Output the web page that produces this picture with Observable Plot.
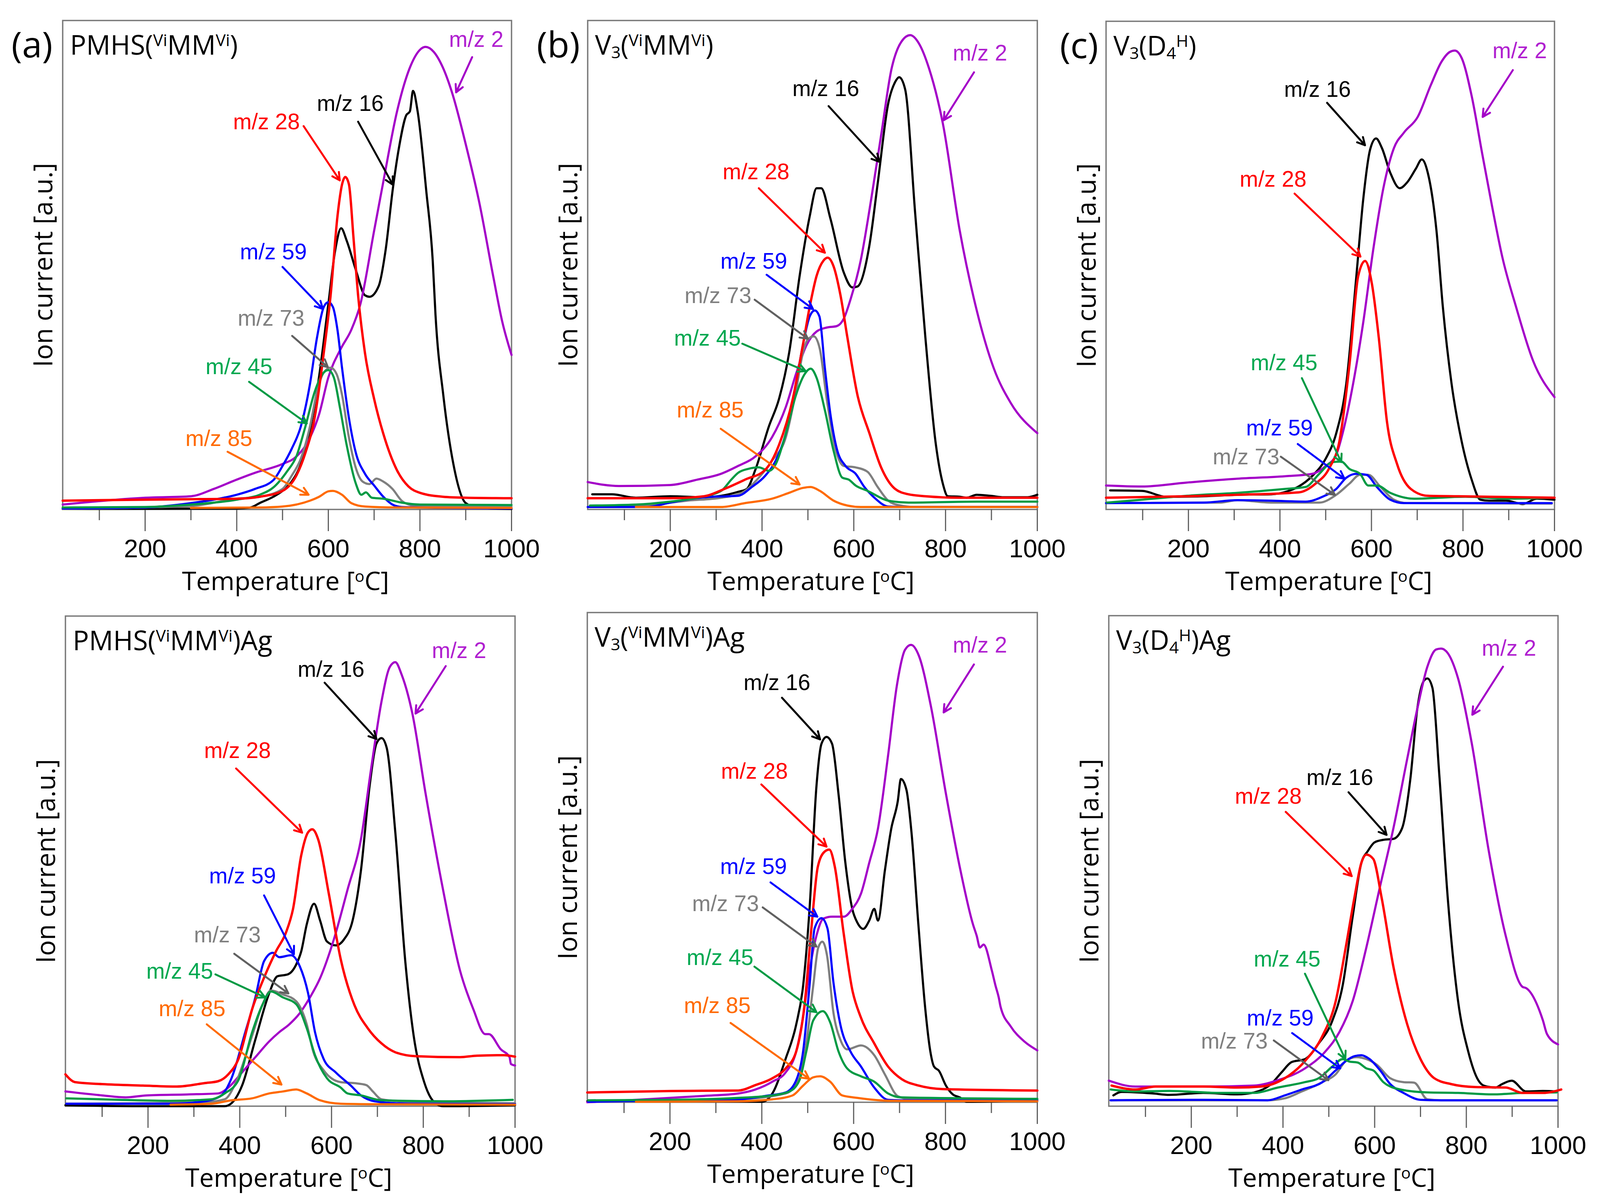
<!DOCTYPE html>
<html>
<head>
<meta charset="utf-8">
<script src="https://cdn.jsdelivr.net/npm/d3@7"></script>
<script src="https://cdn.jsdelivr.net/npm/@observablehq/plot@0.6"></script>
<style>
html,body{margin:0;padding:0;background:#fff;overflow:hidden}
#page{position:relative;width:100vw;height:3083px;background:#fff;overflow:hidden}
</style>
</head>
<body>
<div id="page"></div>
<script>
// Every series: [temperature °C, ion current as % of the panel height]
const a_mz2=[[20,1],[200,2.4],[300,2.7],[350,4.2],[400,6.1],[440,7.5],[500,9.3],[530,10.8],[560,14.7],[580,19.5],[600,27],[628,33],[650,36.7],[670,42],[700,57],[720,67],[750,81.4],[780,90.8],[800,94],[812,94.6],[830,93.6],[850,90.4],[870,85.3],[900,74.7],[930,62.6],[960,47.7],[980,38.3],[1000,31.6]];
const a_mz16=[[20,.1],[400,.2],[430,.4],[450,1.3],[480,2.6],[500,3.8],[520,5.7],[540,9.3],[560,16.3],[580,27.3],[600,42],[615,53],[628,57.5],[640,55],[660,49],[680,43.8],[690,43.5],[710,45.7],[725,53],[741,65.7],[755,74.4],[770,80.6],[778,81.4],[785,85.6],[795,81.4],[814,65],[828,50.8],[834,39.8],[851,23.4],[873,9.3],[900,1.3],[925,.4],[1000,.1]];
const a_mz28=[[20,1.8],[200,2],[300,2.1],[400,2.2],[450,2.6],[500,3.8],[530,6.9],[550,11.6],[570,18.7],[590,32],[605,43.8],[620,60],[630,66.5],[637,68],[645,66.5],[655,55.5],[665,43.8],[680,32],[700,22.6],[720,15.5],[750,8],[775,4.7],[800,3.4],[850,2.6],[900,2.4],[1000,2.3]];
const a_mz59=[[20,.2],[200,.4],[300,1.3],[350,2],[400,3],[440,4.2],[480,6],[500,8.9],[520,12.4],[540,17],[560,25.7],[575,35],[590,41.4],[600,42.4],[610,41.4],[620,36.7],[630,28.9],[645,18.7],[660,11.6],[680,7.3],[700,4.9],[720,2.6],[740,1],[760,.5],[800,.4],[1000,.2]];
const a_mz73=[[20,.1],[300,.7],[400,2.2],[450,2.6],[500,4.2],[520,6.9],[540,10.4],[560,17],[575,24],[590,28],[605,29],[618,27.7],[630,23.4],[645,14.7],[660,8.5],[675,5.7],[690,5.2],[705,6.3],[720,5.7],[740,4.2],[760,1.8],[780,.9],[800,.7],[1000,.5]];
const a_mz45=[[20,.4],[200,.5],[300,1],[400,2],[450,3],[480,4.5],[510,7.8],[530,10.8],[550,17],[570,24],[590,28],[600,28.5],[612,27],[625,21],[640,13.2],[660,5.3],[672,3],[682,3.5],[695,2.4],[720,2.2],[760,1.4],[800,1],[1000,.9]];
const a_mz85=[[300,.3],[450,.4],[500,.6],[530,1],[560,1.8],[580,2.6],[600,3.7],[610,3.8],[630,3],[650,1.3],[680,.6],[750,.4],[1000,.3]];

const b_mz2=[[20,5.6],[88,4.8],[200,5],[259,6.1],[311,7.3],[348,8.9],[385,10.8],[422,14.8],[452,21],[474,27.7],[497,33.6],[519,36.4],[541,37.2],[563,37.5],[578,39],[593,43],[615,50.9],[638,63.5],[660,76.8],[682,90],[704,95.7],[723,97],[742,95.3],[764,90.2],[794,79],[831,57],[868,40.7],[905,28.9],[942,21.8],[1000,15.6]];
const b_mz16=[[30,3.1],[73,3.1],[125,2.4],[200,2.7],[274,2.5],[348,3.6],[367,4.2],[385,8],[415,17],[437,22.6],[459,32],[482,47.8],[504,60],[519,65.7],[529,65.7],[549,59.5],[578,48.5],[597,45.4],[608,45.6],[634,54],[652,66.6],[675,83],[690,87.4],[699,88.4],[712,85.9],[734,60.3],[756,35.2],[779,13.2],[794,5.3],[805,2.7],[831,2.6],[846,2.4],[868,3],[897,2.8],[927,2.5],[979,2.5],[1000,3]];
const b_mz28=[[20,2.3],[200,2.3],[274,2.7],[318,4.2],[363,6.1],[407,8.1],[437,13.2],[467,22.6],[489,33.6],[504,41.5],[519,47.8],[534,50.9],[543,51.5],[556,49.7],[571,43.8],[586,35.2],[608,23.4],[634,15.6],[660,8.5],[690,4.2],[719,3.1],[756,2.7],[831,2.4],[1000,2.4]];
const b_mz59=[[20,.5],[148,.5],[200,1.4],[274,2.5],[348,2.8],[378,4.6],[407,6.9],[430,10],[452,15.6],[474,25.8],[489,33.6],[504,39.5],[515,40.7],[525,39.5],[537,28.9],[549,19.5],[563,12.4],[582,8.9],[604,7.3],[623,4.6],[645,2.4],[675,.6],[719,.5],[1000,.5]];
const b_mz73=[[25,.6],[163,1],[237,1.8],[311,2.4],[356,3.4],[393,6.5],[422,10],[452,14.8],[474,24.2],[489,32],[500,34.8],[513,35.4],[526,32.8],[541,22.6],[560,12.4],[578,8.9],[604,8.6],[630,7.7],[652,4.6],[675,1.8],[697,.9],[734,.5],[1000,.5]];
const b_mz45=[[25,.8],[125,1],[200,1.6],[259,2.4],[311,3.8],[333,6.1],[348,7.5],[370,8.3],[393,8.6],[415,7.9],[430,9.3],[452,15.6],[474,23.4],[493,27.7],[506,28.8],[519,26.9],[537,20.3],[556,12],[575,6.5],[589,6.1],[604,4.9],[630,3.8],[675,1.8],[719,1.4],[868,1.6],[1000,1.6]];
const b_mz85=[[125,.5],[311,.5],[363,1.3],[422,2.2],[459,3.4],[489,4.4],[506,4.6],[526,3.8],[556,1.8],[586,.8],[615,.5],[1000,.5]];

const c_mz2=[[20,4.9],[99,4.7],[196,5.5],[307,6.3],[411,6.8],[471,7.3],[500,8.9],[523,11.2],[537,15.6],[560,25.8],[582,38.3],[604,53.3],[626,65.8],[649,74],[671,77.2],[701,80.4],[730,87],[753,91.7],[771,93.7],[782,94],[797,92.5],[819,84.7],[842,72.9],[864,61.9],[886,51.7],[916,41.5],[953,30.5],[1000,23]];
const c_mz16=[[29,3.9],[99,3.8],[151,2.6],[233,2.7],[307,3],[381,3.1],[419,3.8],[441,4.7],[471,6.9],[500,10.4],[523,15.6],[545,25.8],[567,47.8],[582,63.5],[597,73.7],[610,76],[623,74],[641,69],[662,65.8],[678,67],[697,69.8],[710,71.7],[723,69],[742,57.2],[756,41.5],[775,25.8],[797,14],[819,6.1],[838,2],[857,1.8],[894,1.8],[931,1.1],[961,2.2],[1000,2]];
const c_mz28=[[20,2.4],[196,2.7],[307,3],[441,3.5],[478,5.3],[508,8.5],[530,14],[552,29.7],[571,47.8],[586,50.9],[601,46.2],[616,35.2],[634,17.9],[656,9.3],[686,4.2],[723,2.8],[790,2.7],[1000,2.4]];
const c_mz59=[[20,1.3],[233,1.4],[307,1.9],[381,1.8],[456,1.6],[493,2.6],[523,4.2],[545,6.5],[567,7.3],[589,7.1],[612,4.6],[641,2],[671,1.3],[994,1.3]];
const c_mz73=[[20,1.3],[270,1.4],[307,1.9],[381,1.4],[486,1.4],[523,3],[552,5.3],[575,7.1],[593,7.1],[619,4.7],[649,2],[678,1.3],[994,1.2]];
const c_mz45=[[22,1.4],[99,2],[196,2.8],[307,3.4],[411,4.2],[456,4.6],[486,7.3],[515,9.7],[534,9.8],[552,8.3],[575,7.3],[593,4.9],[612,4.9],[641,3.4],[693,2.2],[805,2.6],[901,2.2],[994,2.4]];

const d_mz2=[[20,3],[100,2.2],[152,1.8],[197,2.2],[286,2.4],[353,2.6],[375,3.8],[405,6.9],[434,10],[464,13.2],[486,15.1],[508,16.7],[531,19],[553,22.2],[575,26.1],[605,34],[635,44.2],[664,54.4],[687,69.3],[709,82.6],[727,89.6],[739,90.6],[753,88],[776,80.2],[805,63.8],[843,44.2],[880,27.7],[909,19.8],[935,14.7],[943,14.7],[969,11.6],[988,10],[991,8.6],[1000,8.3]];
const d_mz16=[[20,.2],[174,0],[367,0],[382,.6],[405,4.2],[434,13.6],[464,23],[482,26.5],[505,26.9],[523,28.9],[534,31.6],[546,37.1],[562,41.3],[575,37.9],[590,33.6],[609,32.8],[627,34],[646,37.9],[664,48],[683,65.3],[698,74],[709,75.1],[720,73.2],[739,55.9],[761,29.3],[779,14.4],[802,4.9],[824,.8],[843,0],[1000,.2]];
const d_mz28=[[20,6.5],[41,4.9],[100,4.5],[189,4.2],[263,4],[323,4.7],[353,5.1],[375,6.5],[397,9.6],[427,19.8],[456,26.9],[479,31.6],[501,35.5],[516,40.2],[534,51.2],[549,55.9],[558,56.5],[571,54.4],[594,43.4],[620,30],[650,20.6],[679,15.9],[709,12.8],[739,11],[783,10.2],[880,10],[917,10.3],[976,10.4],[1000,10.1]];
const d_mz59=[[22,.5],[249,.5],[323,1],[360,2.2],[382,5.7],[412,15.1],[434,22.2],[453,29.6],[472,31.3],[486,30.4],[512,30.8],[531,28.5],[549,23],[564,15.1],[583,9.6],[609,6.9],[642,4.2],[664,2.2],[694,1],[768,.5],[1000,.4]];
const d_mz73=[[22,.5],[323,.8],[367,1.4],[390,4.5],[427,14.4],[449,20.6],[468,23.6],[494,22.8],[523,21.4],[546,16.7],[560,11.2],[583,7.3],[620,4.9],[650,4.7],[676,4.3],[690,3],[709,1.4],[768,.9],[1000,.6]];
const d_mz45=[[22,1.6],[137,1.3],[249,1.1],[338,1.4],[367,2.6],[397,5.3],[427,15.1],[449,20.6],[468,23.4],[494,22.2],[523,20.8],[546,15.9],[564,10.4],[590,5.7],[620,3.8],[635,2.6],[664,2.2],[709,1.2],[843,1],[995,1.3]];
const d_mz85=[[249,.3],[338,.5],[382,1.2],[427,1.6],[464,2.6],[494,3],[523,3.4],[546,2.6],[575,1.2],[620,.5],[694,.4],[1000,.3]];

const e_mz2=[[20,0],[126,.5],[200,.9],[274,1.3],[349,1.8],[386,2.6],[423,4.2],[452,6.1],[475,10.4],[490,17.5],[504,26.9],[519,34],[534,37.5],[553,37.9],[579,37.9],[597,39.5],[616,42.6],[634,48.9],[653,55.9],[675,70.8],[694,85],[712,92.4],[725,93.4],[742,91.2],[768,81],[801,63],[831,48.1],[860,36.3],[868,34],[875,31.6],[883,32.2],[901,26.9],[909,23.8],[916,21.4],[920,19.5],[942,15.5],[972,12.4],[1000,10.6]];
const e_mz16=[[20,.2],[200,.2],[400,.1],[423,1.8],[452,8.9],[475,15.9],[490,23.8],[504,39.5],[519,64.5],[530,73.2],[541,74.6],[553,73.2],[567,63],[582,48.9],[597,39.5],[608,36.7],[621,35.4],[634,37.1],[645,39.5],[653,37.1],[668,47.3],[682,55.9],[696,61.4],[703,66],[715,63.8],[726,55.1],[741,36.3],[756,19.1],[767,10.4],[775,7.3],[786,6.4],[801,3.4],[816,1.6],[831,1],[846,.1],[1000,.5]];
const e_mz28=[[20,2],[200,2.3],[349,2.4],[386,3.5],[423,4.9],[452,6.9],[475,10.4],[493,19.8],[508,35.5],[522,48.1],[537,51.2],[547,51.6],[559,48.1],[578,34.7],[597,23],[615,17.5],[645,12],[675,7.3],[705,4.7],[742,3.4],[794,2.7],[1000,2.4]];
const e_mz59=[[22,.1],[200,.4],[349,.6],[408,1.3],[452,2],[475,4.5],[490,10.4],[504,23.8],[515,35.5],[530,37.6],[543,35.5],[556,24.5],[571,15.9],[593,10.4],[616,7.3],[645,3],[675,.5],[705,.4],[1000,.3]];
const e_mz73=[[22,.1],[349,.6],[452,1.8],[482,4.9],[497,12],[512,23.8],[523,31.6],[532,32.8],[542,30],[556,18.3],[571,12.8],[586,10.8],[616,11.6],[645,9.6],[668,5.7],[697,1.2],[727,.6],[1000,.4]];
const e_mz45=[[22,.4],[200,.5],[349,.9],[423,1.4],[460,2.2],[482,4.5],[497,10.4],[512,16.7],[533,18.6],[549,16.3],[567,10.4],[586,6.9],[616,5.3],[645,4.2],[675,1.8],[705,1],[1000,.7]];
const e_mz85=[[126,.1],[349,.2],[423,.6],[467,1.4],[490,3.4],[512,5.1],[527,5.3],[549,4.2],[575,1.4],[608,.9],[682,.3],[1000,.2]];

const f_mz2=[[20,5.2],[78,4],[152,4],[226,4],[337,4.2],[389,5.3],[448,7.7],[493,11.2],[523,15.1],[552,21.4],[582,32.4],[612,44.9],[641,56.7],[671,70.8],[693,81],[715,89.6],[734,93.1],[745,93.3],[760,92.3],[782,87.2],[812,73.9],[849,52],[886,34.7],[923,24.3],[930,24.1],[967,17.5],[976,14.7],[1000,12.6]];
const f_mz16=[[30,2.2],[48,2.9],[115,2.6],[152,2.3],[226,2.7],[300,2.4],[337,2.8],[374,4.5],[397,6.9],[419,9],[448,9.6],[478,12.8],[508,17.5],[530,24.5],[552,38.6],[571,49.6],[585,52],[600,53.8],[619,54.3],[641,54.5],[660,56.7],[678,66.8],[693,81],[708,86.8],[715,87.2],[726,85.3],[741,67.6],[760,41.8],[782,21.4],[804,11.2],[826,5.3],[838,4.2],[864,3.8],[878,4.5],[899,5.2],[930,3],[967,3.1],[997,3]];
const f_mz28=[[26,4.2],[78,3.4],[122,4],[226,4],[300,3.8],[352,4],[404,5.7],[448,9.2],[486,14.3],[515,21.4],[537,32.4],[556,42.6],[571,49.6],[582,51.3],[597,50.4],[615,42.6],[641,28.4],[671,16.7],[700,9.6],[730,5.7],[767,4.5],[819,3.9],[886,3.8],[923,2.7],[967,2.7],[1007,3.4]];
const f_mz59=[[24,1.2],[226,1.3],[367,1.2],[404,2.2],[441,3.4],[486,4.9],[515,7.3],[537,9.2],[556,10.2],[571,10.4],[589,9.6],[612,7.3],[634,4.5],[663,2.7],[700,1.3],[745,1.2],[997,1.2]];
const f_mz73=[[24,1.2],[367,1.2],[404,1.6],[441,3],[486,4.9],[515,6.5],[537,9.2],[560,10],[582,9.6],[604,8.5],[634,5.7],[663,4.9],[686,4.8],[715,1.4],[745,1.2],[997,1.2]];
const f_mz45=[[24,3.4],[78,3],[152,3.1],[263,2.7],[337,2.7],[389,3.8],[448,4.9],[478,5.7],[508,8.1],[530,9.6],[545,9.1],[563,8.9],[582,7.7],[597,7.3],[619,4.9],[656,3.4],[715,2.8],[782,2.7],[856,2.4],[923,2.7],[997,2.8]];

// Annotations: m/z, label T, label I, arrow T1, I1, T2, I2
const a_notes=[["2",923,96.1,914,92.5,879,85.3],["16",648,83,665,79.3,741,66.4],["28",465,79.2,546,78.4,625,67.3],["59",480,52.6,500,49.6,588,41],["73",475,39,521,35.5,599,29.1],["45",405,29.1,427,26.1,553,17.6],["85",361,14.4,380,11.8,557,3]];
const b_notes=[["2",875,93.3,862,89.4,796,79.6],["16",539,86,545,82.5,656,71.1],["28",387,69,393,65.7,537,52.5],["59",382,50.7,410,48,511,41],["73",304,43.7,384,42.9,500,34.9],["45",281,35,357,33.9,495,28.3],["85",287,20.3,310,16.5,482,5.1]];
const c_notes=[["2",924,93.9,909,90,843,80.4],["16",482,86,503,83.3,586,74.6],["28",385,67.6,432,64.7,576,51.8],["45",409,30,448,26.9,534,9.7],["59",399,16.6,439,13.4,541,6.3],["73",326,10.7,402,10.8,520,3]];
const d_notes=[["2",878,92.9,849,89.8,783,80.1],["16",599,89.1,585,86.4,698,74.9],["28",395,72.5,392,68.9,536,55.8],["59",406,46.9,453,43,518,31],["73",373,34.9,388,31.1,506,23],["45",269,27.5,347,26.9,455,22.2],["85",296,19.8,328,16.7,491,4.4]];
const e_notes=[["2",875,93.3,862,89.4,796,79.6],["16",433,85.6,444,82.6,527,74.1],["28",384,67.5,399,64.9,541,52.2],["59",382,48.1,419,44.9,521,37.9],["73",321,40.5,402,39.8,519,31.8],["45",309,29.5,384,27.7,519,18.4],["85",303,19.7,332,16.2,503,4.8]];
const f_notes=[["2",893,93.3,880,89.6,813,79.8],["16",524,66.9,543,64,626,55.3],["28",368,63.1,406,60,550,46.9],["45",409,29.9,448,27,536,9.6],["59",394,17.9,420,14.9,525,7.7],["73",294,13.2,380,13.4,499,5.3]];

const majorTicks=[200,400,600,800,1000];
const minorTicks=[100,300,500,700,900];
const xLabel="Temperature [^{o}C]";
const yLabel="Ion current [a.u.]";
const lineColors={"2":"#A400C8","16":"#000000","28":"#FF0000","59":"#0000FF","73":"#7F7F7F","45":"#009A44","85":"#FF6A00"};
const labelColors={"2":"#B020D0","16":"#000000","28":"#FF0000","59":"#0000FF","73":"#808080","45":"#00A850","85":"#FF6A00"};
const arrowColors={"2":"#A400C8","16":"#000000","28":"#FF0000","59":"#0000FF","73":"#606060","45":"#009A44","85":"#FF6A00"};
const drawOrder=["16","2","73","59","45","28","85"];

const panels=[
 {left:166,top:52,w:1194,h:1252,letter:"(a)",letterT:-47,title:"PMHS(^{Vi}MM^{Vi})",series:{"2":a_mz2,"16":a_mz16,"28":a_mz28,"59":a_mz59,"73":a_mz73,"45":a_mz45,"85":a_mz85},notes:a_notes},
 {left:1563,top:52,w:1196,h:1252,letter:"(b)",letterT:-44,title:"V_{3}(^{Vi}MM^{Vi})",series:{"2":b_mz2,"16":b_mz16,"28":b_mz28,"59":b_mz59,"73":b_mz73,"45":b_mz45,"85":b_mz85},notes:b_notes},
 {left:2942,top:54,w:1193,h:1250,letter:"(c)",letterT:-39,title:"V_{3}(D_{4}^{H})",series:{"2":c_mz2,"16":c_mz16,"28":c_mz28,"59":c_mz59,"73":c_mz73,"45":c_mz45},notes:c_notes},
 {left:174,top:1577,w:1196,h:1255,letter:null,title:"PMHS(^{Vi}MM^{Vi})Ag",series:{"2":d_mz2,"16":d_mz16,"28":d_mz28,"59":d_mz59,"73":d_mz73,"45":d_mz45,"85":d_mz85},notes:d_notes},
 {left:1562,top:1568,w:1197,h:1254,letter:null,title:"V_{3}(^{Vi}MM^{Vi})Ag",series:{"2":e_mz2,"16":e_mz16,"28":e_mz28,"59":e_mz59,"73":e_mz73,"45":e_mz45,"85":e_mz85},notes:e_notes},
 {left:2950,top:1576,w:1195,h:1256,letter:null,title:"V_{3}(D_{4}^{H})Ag",series:{"2":f_mz2,"16":f_mz16,"28":f_mz28,"59":f_mz59,"73":f_mz73,"45":f_mz45},notes:f_notes}
];

const SANS="'Open Sans',sans-serif", ARIAL="'Liberation Sans',Arial,sans-serif";
// The browser window may be narrower than the reference: fit the layout horizontally.
const SX=Math.min(1,window.innerWidth/4257);
const M={l:150,r:80,t:10,b:250};

function richText(svg){
  svg.querySelectorAll("text").forEach(t=>{
    const s=t.textContent;
    if(!/[\^_]\{/.test(s)) return;
    t.textContent="";
    const re=/([\^_])\{([^}]*)\}|([^\^_]+)/g; let m;
    while((m=re.exec(s))){
      const span=document.createElementNS("http://www.w3.org/2000/svg","tspan");
      if(m[1]){
        span.textContent=m[2];
        span.setAttribute("font-size","62%");
        span.style.baselineShift=m[1]==="^"?"52%":"-22%";
      } else span.textContent=m[3];
      t.appendChild(span);
    }
  });
}

const page=document.getElementById("page");
for(const p of panels){
  const w=Math.round(p.w*SX);
  const marks=[Plot.frame({stroke:"#7a7a7a",strokeWidth:3.5})];
  marks.push(Plot.axisX(majorTicks,{tickSize:56,tickPadding:20,fontSize:65,fontFamily:ARIAL,label:null,stroke:"#606060",strokeWidth:3,fill:"#000",tickFormat:d=>String(d)}));
  marks.push(Plot.axisX(minorTicks,{tickSize:28,text:null,label:null,stroke:"#606060",strokeWidth:3}));
  for(const k of drawOrder){
    if(p.series[k]) marks.push(Plot.line(p.series[k],{x:d=>d[0],y:d=>d[1],stroke:lineColors[k],strokeWidth:k==="28"?6:5.5,curve:"monotone-x"}));
  }
  for(const n of p.notes){
    const c=arrowColors[n[0]];
    marks.push(Plot.arrow([n],{x1:d=>d[3],y1:d=>d[4],x2:d=>d[5],y2:d=>d[6],stroke:c,strokeWidth:5,bend:0,headLength:6.5,headAngle:55}));
    marks.push(Plot.text([n],{x:d=>d[1],y:d=>d[2],text:d=>"m/z "+d[0],fill:labelColors[n[0]],fontSize:57,fontFamily:ARIAL}));
  }
  marks.push(Plot.text([p.title],{x:()=>36,y:()=>94.8,text:d=>d,textAnchor:"start",fontSize:69,fontFamily:SANS,fill:"#000"}));
  if(p.letter) marks.push(Plot.text([p.letter],{x:()=>p.letterT,y:()=>94.8,text:d=>d,fontSize:92,fontFamily:SANS,fill:"#000"}));
  marks.push(Plot.text([yLabel],{frameAnchor:"left",textAnchor:"middle",dx:-48,rotate:-90,text:d=>d,fontSize:67,fontFamily:SANS,fill:"#000"}));
  marks.push(Plot.text([xLabel],{frameAnchor:"bottom",textAnchor:"middle",dy:206,dx:-4,text:d=>d,fontSize:66,fontFamily:SANS,fill:"#000"}));
  const svg=Plot.plot({
    width:M.l+w+M.r,height:M.t+p.h+M.b,
    marginLeft:M.l,marginRight:M.r,marginTop:M.t,marginBottom:M.b,
    x:{domain:[20,1000],label:null},
    y:{domain:[0,100],axis:null,label:null},
    style:{background:"transparent",maxWidth:"none",overflow:"visible",position:"absolute",left:(Math.round(p.left*SX)-M.l)+"px",top:(p.top-M.t)+"px"},
    marks
  });
  richText(svg);
  page.appendChild(svg);
}
</script>
</body>
</html>
